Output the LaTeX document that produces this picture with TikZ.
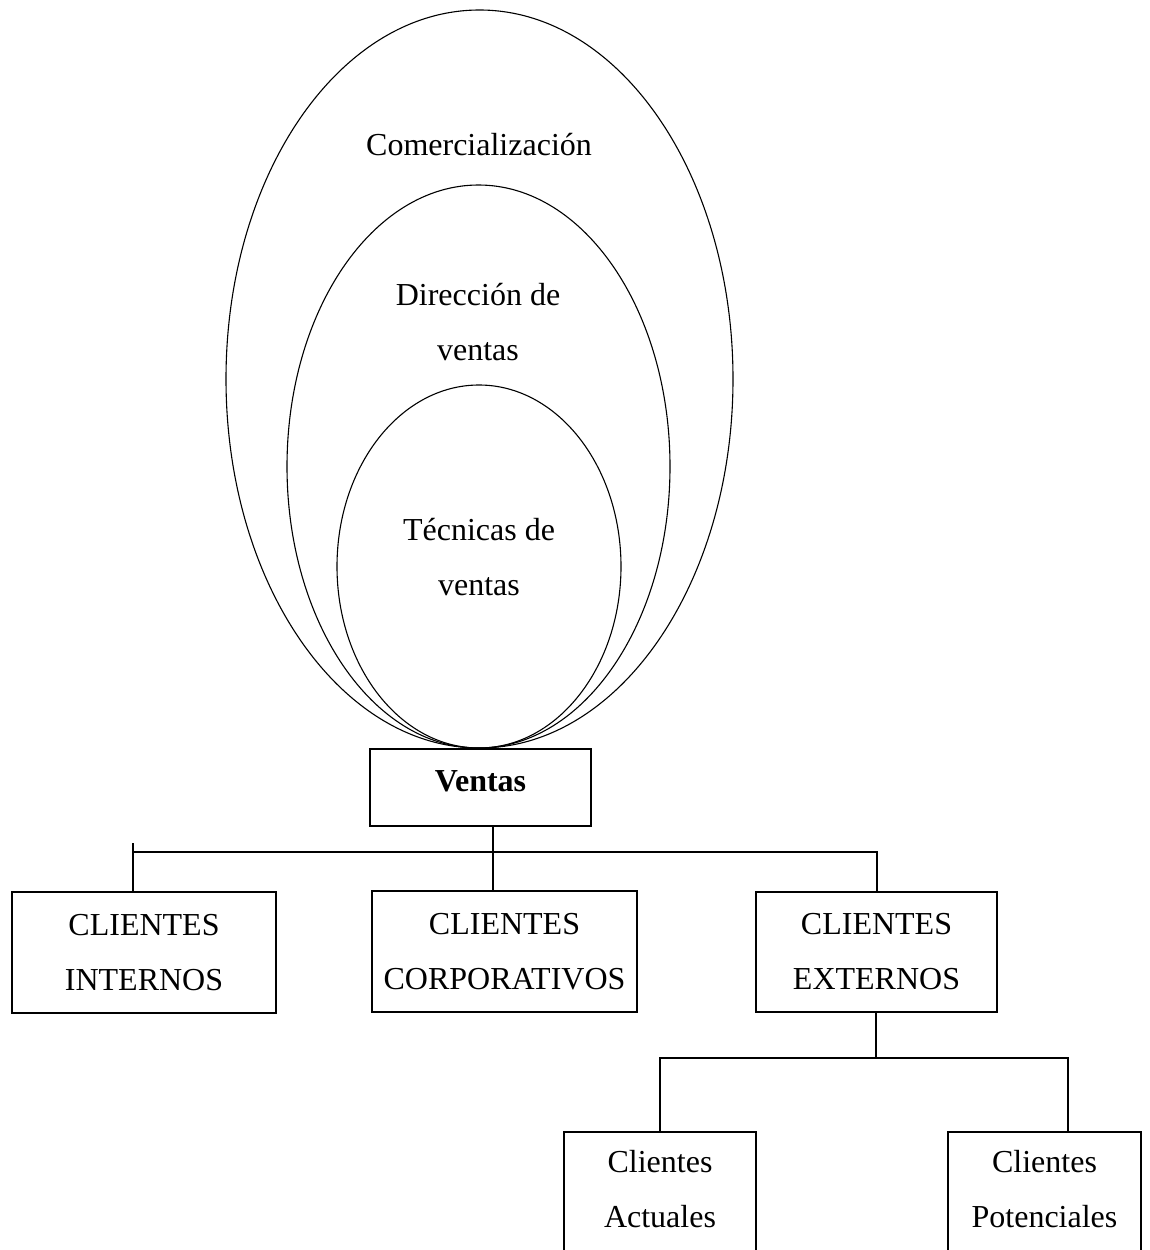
\documentclass[tikz,border=0pt]{standalone}
\usepackage{fontspec}
\setmainfont{Liberation Serif}
\usetikzlibrary{shapes.geometric}
\begin{document}
\begin{tikzpicture}[x=1pt,y=-1pt,
  oval/.style={draw, ellipse, inner sep=0pt, line width=1.1pt},
  box/.style={draw, rectangle, line width=1.5pt, inner sep=0pt, align=center,
              font=\fontsize{32}{55}\selectfont},
  lbl/.style={inner sep=0pt, align=center, font=\fontsize{32}{55}\selectfont},
  link/.style={line width=1.5pt}]
\useasboundingbox (0,0) rectangle (1149,1250);
\clip (0,0) rectangle (1149,1250);

% nested ovals, all touching at the bottom
\node[oval, minimum width=507pt, minimum height=738pt] (com) at (479.5,379) {};
\node[oval, minimum width=383pt, minimum height=563pt] (dir) at (478.5,466.5) {};
\node[oval, minimum width=284pt, minimum height=363pt] (tec) at (479,566.5) {};

\node[lbl] (comT) at (479,145) {Comercialización};
\node[lbl] (dirT) at (478,322) {Dirección de\\ventas};
\node[lbl] (tecT) at (479,557) {Técnicas de\\ventas};

% root box
\node[box, minimum width=221pt, minimum height=77pt] (ventas) at (480.5,787.5) {};
\node[lbl] (ventasT) at ([yshift=6pt]ventas.center) {\bfseries Ventas};

% first level
\node[box, minimum width=264pt, minimum height=121pt] (int) at (144,952.5) {CLIENTES\\INTERNOS};
\node[box, minimum width=265pt, minimum height=121pt] (corp) at (504.5,951.5) {CLIENTES\\CORPORATIVOS};
\node[box, minimum width=241pt, minimum height=120pt] (ext) at (876.5,952) {CLIENTES\\EXTERNOS};

% second level (running past the lower edge)
\node[box, minimum width=192pt, minimum height=200pt, anchor=north] (act) at (660,1131) {};
\node[lbl] (actT) at (660,1189.5) {Clientes\\Actuales};
\node[box, minimum width=193pt, minimum height=200pt, anchor=north] (pot) at (1044.5,1131) {};
\node[lbl] (potT) at (1044.5,1189.5) {Clientes\\Potenciales};

% connectors of the first level
\coordinate (tick) at (133,843);
\coordinate (hr) at (877,852);
\coordinate (jm) at (493,852);
\draw[link] (tick) -- (tick |- int.north);
\draw[link] (tick |- hr) -- (hr) -- (hr |- ext.north);
\draw[link] (jm |- ventas.south) -- (jm |- corp.north);

% connectors of the second level
\coordinate (eb) at (876,1058);
\coordinate (al) at (660,1058);
\coordinate (pr) at (1068,1058);
\draw[link] (eb |- ext.south) -- (eb);
\draw[link] (al |- act.north) -- (al) -- (pr) -- (pr |- pot.north);
\end{tikzpicture}
\end{document}
